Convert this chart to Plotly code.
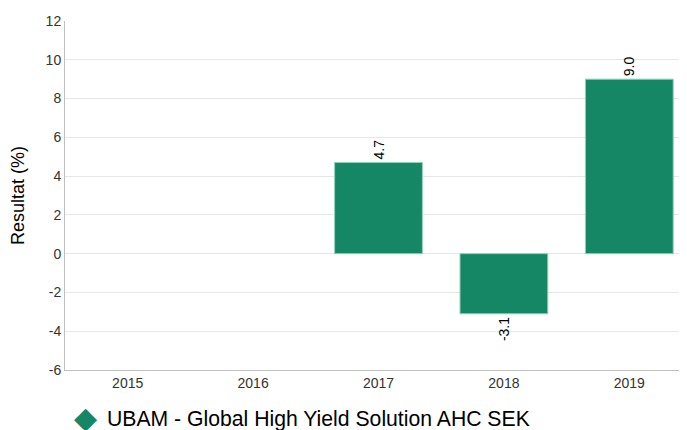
import plotly.graph_objects as go

years = ["2015", "2016", "2017", "2018", "2019"]
values = [None, None, 4.7, -3.1, 9.0]
labels = ["" if v is None else f"{v:.1f}" for v in values]
y_ticks = [-6, -4, -2, 0, 2, 4, 6, 8, 10, 12]
y_tick_text = [str(t) for t in y_ticks]
series_name = "UBAM - Global High Yield Solution AHC SEK"
color = "#158765"

fig = go.Figure()
fig.add_trace(go.Bar(
    x=years, y=values, text=labels, textposition="outside", textangle=-90,
    name=series_name,
    textfont=dict(family="Liberation Sans, Arial", size=14, color="#000000"),
    marker=dict(color=color, line=dict(color="#8fd0b8", width=1)),
    width=0.7, showlegend=False, cliponaxis=False,
))

# legend drawn as annotations (large diamond symbol + label)
fig.add_annotation(
    xref="paper", yref="paper", x=0.0319, y=-0.136, xanchor="center", yanchor="middle",
    text="◆", showarrow=False,
    font=dict(family="DejaVu Sans", size=30, color=color),
)
fig.add_annotation(
    xref="paper", yref="paper", x=0.0638, y=-0.141, xanchor="left", yanchor="middle",
    text=series_name, showarrow=False,
    font=dict(family="Liberation Sans, Arial", size=21.2, color="#000000"),
)

fig.update_layout(
    width=685, height=422,
    margin=dict(l=57, r=1, t=13, b=60, autoexpand=False),
    plot_bgcolor="white", paper_bgcolor="white",
    font=dict(family="Liberation Sans, Arial", color="#333333"),
    showlegend=False,
    bargap=0.3,
)
fig.update_xaxes(
    type="category", showline=True, linecolor="#c0c0c0", linewidth=1,
    tickfont=dict(size=14, color="#333333"), ticks="", showgrid=False, automargin=False,
)
fig.update_yaxes(
    range=[-6, 12], tickvals=y_ticks, ticktext=y_tick_text,
    showline=True, linecolor="#c0c0c0", linewidth=1,
    gridcolor="#e6e6e6", zeroline=True, zerolinecolor="#e6e6e6", zerolinewidth=1,
    tickfont=dict(size=14, color="#333333"), ticks="", automargin=False,
    title=dict(text="Resultat (%)", font=dict(size=18, color="#000000"), standoff=16),
)
fig.write_html("out.html")
